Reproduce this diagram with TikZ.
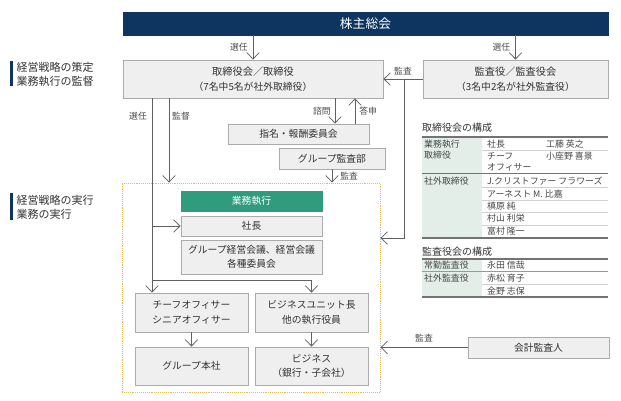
\documentclass[tikz,border=0pt]{standalone}
\usepackage{fontspec}
\setmainfont{Noto Sans CJK JP}
\usepackage{tkz-euclide}
\usetikzlibrary{calc}
\usetikzlibrary{arrows.meta}

\definecolor{navy}{HTML}{0D3560}
\definecolor{boxgray}{HTML}{EFEFEF}
\definecolor{linegray}{HTML}{ABABAB}
\definecolor{textgray}{HTML}{333333}
\definecolor{execgreen}{HTML}{2F9C7E}
\definecolor{dotyellow}{HTML}{E5BC55}
\definecolor{tablegreen}{HTML}{E2EEE7}

\tikzset{
  box/.style={draw=linegray, fill=boxgray, text=textgray, line width=0.8pt,
    inner sep=0pt, align=center, font=\fontsize{9.8}{14.5}\selectfont},
  flow/.style={draw=black!62, line width=0.75pt,
    -{Straight Barb[length=6.5pt,width=12.5pt,line width=0.75pt]}},
  tag/.style={text=black!70, inner sep=1pt, font=\fontsize{8.8}{10}\selectfont},
  cell/.style={anchor=west, text=black!72, inner sep=0pt, font=\fontsize{8.9}{10}\selectfont},
  head/.style={anchor=west, text=textgray, inner sep=0pt, font=\fontsize{10}{12}\selectfont},
}

\begin{document}
\begin{tikzpicture}[x=1pt,y=-1pt]
                \useasboundingbox (0,0) rectangle (621,401);

                % upper part
                \node[box, fill=navy, draw=navy, text=white, minimum width=485pt, minimum height=23pt,
                  font=\fontsize{12.8}{14}\selectfont] (GM) at (365.5,23.5) {株主総会};
                \node[box, minimum width=260pt, minimum height=38pt] (BD) at (253,79)
                  {{\fontsize{10.2}{14.5}\selectfont 取締役会／取締役}\\（7名中5名が社外取締役）};
                \node[box, minimum width=185pt, minimum height=38pt] (AB) at (515.5,79)
                  {{\fontsize{10.2}{14.5}\selectfont 監査役／監査役会}\\（3名中2名が社外監査役）};
                \node[box, minimum width=141pt, minimum height=20pt] (NC) at (298.5,134) {指名・報酬委員会};
                \node[box, minimum width=106pt, minimum height=21pt] (IA) at (332,158.5) {グループ監査部};

                % execution frame
                \node[draw=dotyellow, densely dotted, line width=0.9pt, minimum width=258pt,
                  minimum height=209pt, inner sep=0pt] (EX) at (251,287.5) {};
                \node[box, fill=execgreen, draw=execgreen, text=white, minimum width=141pt,
                  minimum height=20pt] (E0) at (251.5,201) {業務執行};
                \node[box, minimum width=141pt, minimum height=20pt] (E1) at (251.5,226) {社長};
                \node[box, minimum width=141pt, minimum height=34pt] (E2) at (251.5,257)
                  {グループ経営会議、経営会議\\各種委員会};
                \node[box, minimum width=113pt, minimum height=39pt] (C1) at (191.5,312.5)
                  {チーフオフィサー\\シニアオフィサー};
                \node[box, minimum width=113pt, minimum height=39pt] (C2) at (311.5,312.5)
                  {ビジネスユニット長\\他の執行役員};
                \node[box, minimum width=113pt, minimum height=38pt] (D1) at (191.5,366) {グループ本社};
                \node[box, minimum width=113pt, minimum height=38pt] (D2) at (311.5,366)
                  {ビジネス\\（銀行・子会社）};
                \node[box, minimum width=141pt, minimum height=21pt] (EA) at (538.5,347.5) {会計監査人};

                % points for the connectors
                \tkzDefPoint(152,226){S1}
                \tkzDefPoint(152,280){S2}
                \tkzDefPoint(169,100){M1}
                \tkzDefPoint(335,100){Q1}
                \tkzDefPoint(355,100){R1}
                \tkzDefPoint(404,79){K1}
                \tkzDefPoint(404,238){K2}

                % connectors
                \draw[flow] (GM.south -| BD.north) -- (BD.north) node[tag, midway, left=4pt] {選任};
                \draw[flow] (GM.south -| AB.north) -- (AB.north) node[tag, midway, left=4pt] {選任};
                \draw[flow] (AB.west) -- (BD.east) node[tag, midway, above=3pt] {監査};
                \draw[flow] (K1) -- (K2) -- (K2 -| EX.east);

                \draw[flow] (BD.south -| S1) -- (C1.north -| S1);
                \draw[flow] (S1) -- (E1.west);
                \draw[flow] (S2) -- (S2 -| C2.north) -- (C2.north);
                \node[tag] (T1) at (138,116) {選任};
                \draw[flow] (BD.south -| M1) -- (EX.north -| M1);
                \node[tag] (T2) at (181,116) {監督};

                \draw[flow] (BD.south -| Q1) -- (NC.north -| Q1) node[tag, midway, left=3pt] {諮問};
                \draw[flow] (NC.north -| R1) -- (BD.south -| R1) node[tag, midway, right=3pt] {答申};
                \draw[flow] (IA.south) -- (EX.north -| IA.south) node[tag, midway, right=7pt] {監査};

                \draw[flow] (C1.south) -- (D1.north);
                \draw[flow] (C2.south) -- (D2.north);
                \draw[flow] (EA.west) -- (EA.west -| EX.east) node[tag, midway, above=4pt] {監査};

                % side labels
                \fill[navy] (10,61) rectangle (12.8,86);
                \node[anchor=west, align=left, text=textgray, inner sep=0pt,
                  font=\fontsize{11}{14}\selectfont] (L1) at (16.5,74.5) {経営戦略の策定\\業務執行の監督};
                \fill[navy] (10,193) rectangle (12.8,220);
                \node[anchor=west, align=left, text=textgray, inner sep=0pt,
                  font=\fontsize{11}{14}\selectfont] (L2) at (16.5,207.5) {経営戦略の実行\\業務の実行};

                % board members
                \node[head] (H1) at (422,128) {取締役会の構成};
                \fill[tablegreen] (422,137) rectangle (482,238);
                \foreach \y in {150.5,187.5,200,212.5,225}
                  \draw[black!18, line width=0.6pt] (482,\y) -- (608,\y);
                \foreach \y in {137,173.5,238}
                  \draw[black!55, line width=1.1pt] (422,\y) -- (608,\y);
                \node[cell] at (424,144) {業務執行};
                \node[cell] at (424,155.5) {取締役};
                \node[cell] at (487,144) {社長};
                \node[cell] at (546,144) {工藤 英之};
                \node[cell] at (487,156) {チーフ};
                \node[cell] at (487,167) {オフィサー};
                \node[cell] at (546,156) {小座野 喜景};
                \node[cell] at (424,181.5) {社外取締役};
                \node[cell] at (487,181.5) {J.クリストファー フラワーズ};
                \node[cell] at (487,194) {アーネスト M. 比嘉};
                \node[cell] at (487,206) {槙原 純};
                \node[cell] at (487,218.5) {村山 利栄};
                \node[cell] at (487,231) {富村 隆一};

                % auditors
                \node[head] (H2) at (422,252) {監査役会の構成};
                \fill[tablegreen] (422,259) rectangle (482,297);
                \draw[black!18, line width=0.6pt] (482,284.5) -- (608,284.5);
                \draw[black!40, line width=0.9pt] (422,271) -- (608,271);
                \foreach \y in {259,297}
                  \draw[black!55, line width=1.1pt] (422,\y) -- (608,\y);
                \node[cell] at (424,265) {常勤監査役};
                \node[cell] at (487,265) {永田 信哉};
                \node[cell] at (424,278) {社外監査役};
                \node[cell] at (487,278) {赤松 育子};
                \node[cell] at (487,291) {金野 志保};
\end{tikzpicture}
\end{document}
